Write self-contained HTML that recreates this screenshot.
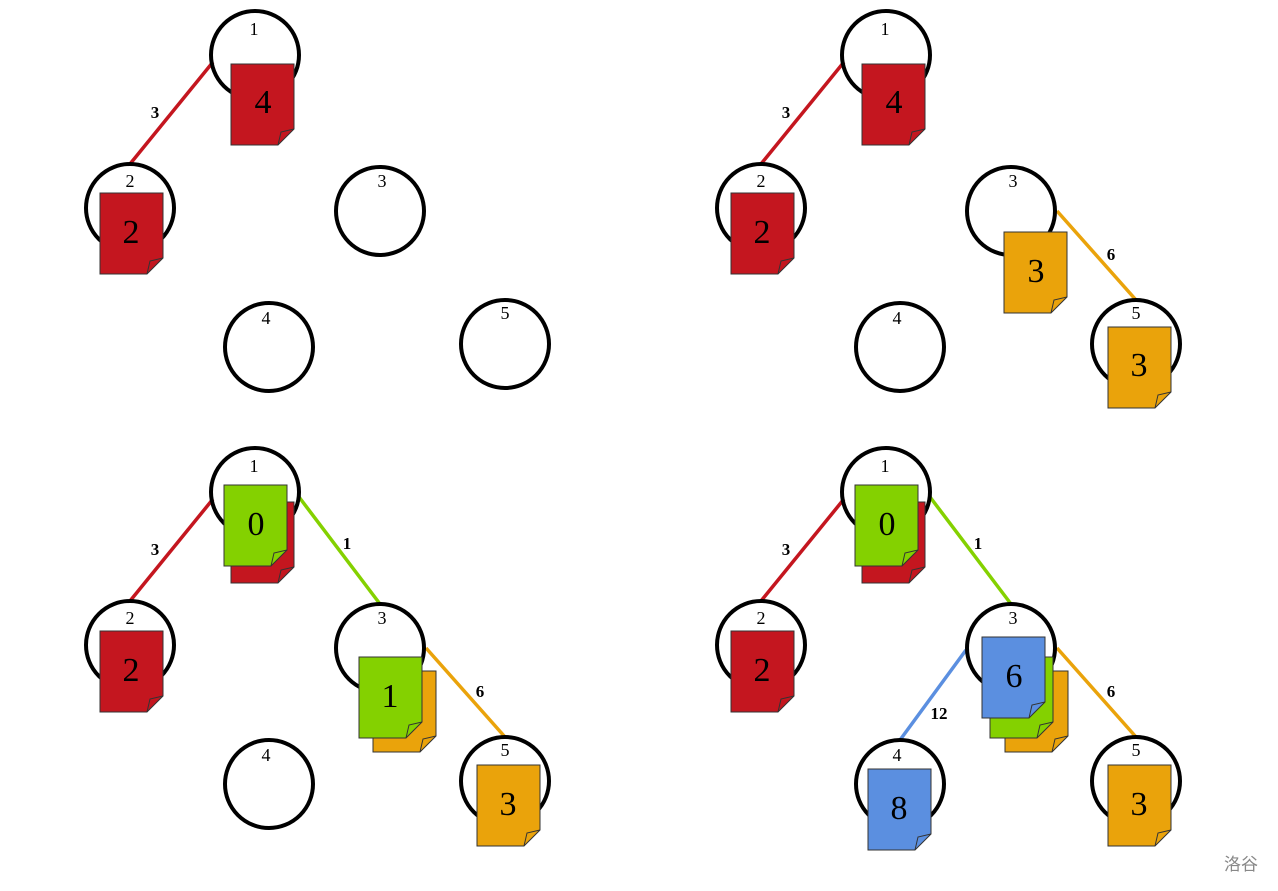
<!DOCTYPE html>
<html><head><meta charset="utf-8"><style>
html,body{margin:0;padding:0;background:#fff;width:1278px;height:891px;overflow:hidden}
svg{display:block}
.n{font-family:"Liberation Serif",serif;font-size:18px;text-anchor:middle}
.e{font-family:"Liberation Serif",serif;font-size:17px;font-weight:bold;text-anchor:middle}
.d{font-family:"Liberation Serif",serif;font-size:34px;text-anchor:middle}
circle{fill:none;stroke:#000;stroke-width:4}
</style></head><body>
<svg width="1278" height="891" viewBox="0 0 1278 891">
<defs>
<g id="doc"><path d="M0,0H63V65L47,81H0Z" stroke="#333" stroke-width="1"/><path d="M47,81L50,68L63,65" fill="none" stroke="#333" stroke-width="1"/></g>
</defs>

<!-- Panel TL -->
<line x1="213" y1="62" x2="130" y2="164" stroke="#c4161f" stroke-width="3.5"/>
<text class="e" x="155" y="118">3</text>
<circle cx="255" cy="55" r="44"/><circle cx="130" cy="208" r="44"/><circle cx="380" cy="211" r="44"/><circle cx="269" cy="347" r="44"/><circle cx="505" cy="344" r="44"/>
<text class="n" x="254" y="35">1</text><text class="n" x="130" y="187">2</text><text class="n" x="382" y="187">3</text><text class="n" x="266" y="324">4</text><text class="n" x="505" y="319">5</text>
<use href="#doc" x="231" y="64" fill="#c4161f"/><text class="d" x="263" y="113">4</text>
<use href="#doc" x="100" y="193" fill="#c4161f"/><text class="d" x="131" y="243">2</text>

<!-- Panel TR -->
<g transform="translate(631,0)">
<line x1="213" y1="62" x2="130" y2="164" stroke="#c4161f" stroke-width="3.5"/>
<text class="e" x="155" y="118">3</text>
<line x1="426" y1="211" x2="505" y2="300" stroke="#eaa30b" stroke-width="3.5"/>
<text class="e" x="480" y="260">6</text>
<circle cx="255" cy="55" r="44"/><circle cx="130" cy="208" r="44"/><circle cx="380" cy="211" r="44"/><circle cx="269" cy="347" r="44"/><circle cx="505" cy="344" r="44"/>
<text class="n" x="254" y="35">1</text><text class="n" x="130" y="187">2</text><text class="n" x="382" y="187">3</text><text class="n" x="266" y="324">4</text><text class="n" x="505" y="319">5</text>
<use href="#doc" x="231" y="64" fill="#c4161f"/><text class="d" x="263" y="113">4</text>
<use href="#doc" x="100" y="193" fill="#c4161f"/><text class="d" x="131" y="243">2</text>
<use href="#doc" x="373" y="232" fill="#eaa30b"/><text class="d" x="405" y="282">3</text>
<use href="#doc" x="477" y="327" fill="#eaa30b"/><text class="d" x="508" y="376">3</text>
</g>

<!-- Panel BL -->
<g transform="translate(0,437)">
<line x1="213" y1="62" x2="130" y2="164" stroke="#c4161f" stroke-width="3.5"/>
<text class="e" x="155" y="118">3</text>
<line x1="299" y1="60" x2="380" y2="167" stroke="#84d100" stroke-width="3.5"/>
<text class="e" x="347" y="112">1</text>
<line x1="426" y1="211" x2="505" y2="300" stroke="#eaa30b" stroke-width="3.5"/>
<text class="e" x="480" y="260">6</text>
<circle cx="255" cy="55" r="44"/><circle cx="130" cy="208" r="44"/><circle cx="380" cy="211" r="44"/><circle cx="269" cy="347" r="44"/><circle cx="505" cy="344" r="44"/>
<text class="n" x="254" y="35">1</text><text class="n" x="130" y="187">2</text><text class="n" x="382" y="187">3</text><text class="n" x="266" y="324">4</text><text class="n" x="505" y="319">5</text>
<use href="#doc" x="231" y="65" fill="#c4161f"/>
<use href="#doc" x="224" y="48" fill="#84d100"/><text class="d" x="256" y="98">0</text>
<use href="#doc" x="100" y="194" fill="#c4161f"/><text class="d" x="131" y="244">2</text>
<use href="#doc" x="373" y="234" fill="#eaa30b"/>
<use href="#doc" x="359" y="220" fill="#84d100"/><text class="d" x="390" y="270">1</text>
<use href="#doc" x="477" y="328" fill="#eaa30b"/><text class="d" x="508" y="378">3</text>
</g>

<!-- Panel BR -->
<g transform="translate(631,437)">
<line x1="213" y1="62" x2="130" y2="164" stroke="#c4161f" stroke-width="3.5"/>
<text class="e" x="155" y="118">3</text>
<line x1="299" y1="60" x2="380" y2="167" stroke="#84d100" stroke-width="3.5"/>
<text class="e" x="347" y="112">1</text>
<line x1="426" y1="211" x2="505" y2="300" stroke="#eaa30b" stroke-width="3.5"/>
<text class="e" x="480" y="260">6</text>
<line x1="335" y1="213" x2="269" y2="303" stroke="#5b8fe0" stroke-width="3.5"/>
<text class="e" x="308" y="282">12</text>
<circle cx="255" cy="55" r="44"/><circle cx="130" cy="208" r="44"/><circle cx="380" cy="211" r="44"/><circle cx="269" cy="347" r="44"/><circle cx="505" cy="344" r="44"/>
<text class="n" x="254" y="35">1</text><text class="n" x="130" y="187">2</text><text class="n" x="382" y="187">3</text><text class="n" x="266" y="324">4</text><text class="n" x="505" y="319">5</text>
<use href="#doc" x="231" y="65" fill="#c4161f"/>
<use href="#doc" x="224" y="48" fill="#84d100"/><text class="d" x="256" y="98">0</text>
<use href="#doc" x="100" y="194" fill="#c4161f"/><text class="d" x="131" y="244">2</text>
<use href="#doc" x="374" y="234" fill="#eaa30b"/>
<use href="#doc" x="359" y="220" fill="#84d100"/>
<use href="#doc" x="351" y="200" fill="#5b8fe0"/><text class="d" x="383" y="250">6</text>
<use href="#doc" x="237" y="332" fill="#5b8fe0"/><text class="d" x="268" y="382">8</text>
<use href="#doc" x="477" y="328" fill="#eaa30b"/><text class="d" x="508" y="378">3</text>
</g>

<text x="1241" y="870" font-family="'Liberation Sans','Noto Sans CJK SC',sans-serif" font-size="17" fill="#888" text-anchor="middle">洛谷</text>
</svg>
</body></html>
